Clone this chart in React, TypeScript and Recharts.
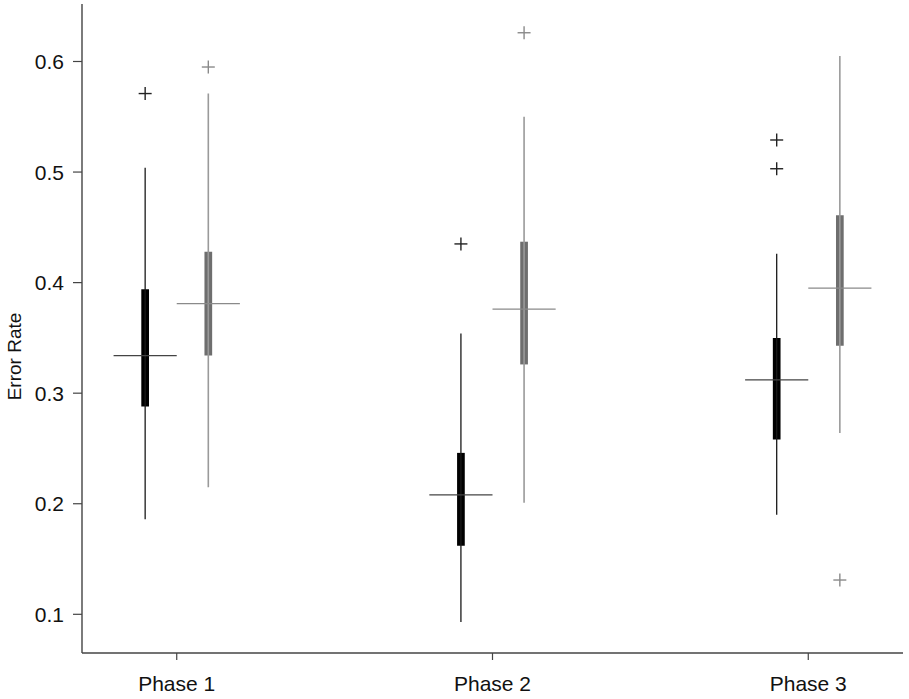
import React from 'react';
import {
  ComposedChart,
  XAxis,
  YAxis,
  Scatter,
  ReferenceArea,
  ReferenceLine,
} from 'recharts';

// Categories
const phases = ['Phase 1', 'Phase 2', 'Phase 3'];
const phasePositions = [1, 2, 3];

// Group A (black boxes)
const aLow = [0.186, 0.093, 0.19];
const aQ1 = [0.288, 0.162, 0.258];
const aMedian = [0.334, 0.208, 0.312];
const aQ3 = [0.394, 0.246, 0.35];
const aHigh = [0.504, 0.354, 0.426];
const aOutliers = [[0.571], [0.435], [0.529, 0.503]];

// Group B (gray boxes)
const bLow = [0.215, 0.201, 0.264];
const bQ1 = [0.334, 0.326, 0.343];
const bMedian = [0.381, 0.376, 0.395];
const bQ3 = [0.428, 0.437, 0.461];
const bHigh = [0.571, 0.55, 0.605];
const bOutliers = [[0.595], [0.626], [0.131]];

// Y axis ticks
const yTicks = [0.1, 0.2, 0.3, 0.4, 0.5, 0.6];

const GROUP_OFFSET = 0.1;
const BOX_HALF = 0.0122;
const MEDIAN_HALF = 0.1;

const FONT = '"Liberation Sans", Arial, Helvetica, sans-serif';

type Group = {
  offset: number;
  low: number[];
  q1: number[];
  median: number[];
  q3: number[];
  high: number[];
  outliers: number[][];
  boxColor: string;
  whiskerColor: string;
  whiskerWidth: number;
  medianColor: string;
  outlierColor: string;
};

const groups: Group[] = [
  {
    offset: -GROUP_OFFSET,
    low: aLow,
    q1: aQ1,
    median: aMedian,
    q3: aQ3,
    high: aHigh,
    outliers: aOutliers,
    boxColor: '#000000',
    whiskerColor: '#1a1a1a',
    whiskerWidth: 1.3,
    medianColor: '#444444',
    outlierColor: '#222222',
  },
  {
    offset: GROUP_OFFSET,
    low: bLow,
    q1: bQ1,
    median: bMedian,
    q3: bQ3,
    high: bHigh,
    outliers: bOutliers,
    boxColor: '#6e6e6e',
    whiskerColor: '#9a9a9a',
    whiskerWidth: 1.6,
    medianColor: '#8a8a8a',
    outlierColor: '#8a8a8a',
  },
];

const makeOutlierData = (g: Group) =>
  g.outliers.flatMap((vals, i) =>
    vals.map((v) => ({ x: phasePositions[i] + g.offset, y: v }))
  );

const plusShape = (color: string) => (props: any) => {
  const { cx, cy } = props;
  if (cx == null || cy == null) return <g />;
  const h = 6.5;
  return (
    <g>
      <line x1={cx - h} x2={cx + h} y1={cy} y2={cy} stroke={color} strokeWidth={1.4} />
      <line x1={cx} x2={cx} y1={cy - h} y2={cy + h} stroke={color} strokeWidth={1.4} />
    </g>
  );
};

const YLabel = (props: any) => {
  const vb = props.viewBox || { x: 0, y: 0, width: 82, height: 649 };
  const x = vb.x + 14;
  const y = vb.y + vb.height / 2 + 28;
  return (
    <text
      x={x}
      y={y}
      transform={`rotate(-90 ${x} ${y})`}
      textAnchor="middle"
      dominantBaseline="central"
      fontFamily={FONT}
      fontSize={19}
      fill="#111"
    >
      Error Rate
    </text>
  );
};

export default function App() {
  return (
    <div style={{ position: 'absolute', left: 0, top: 0, background: '#fff' }}>
      <ComposedChart
        width={909}
        height={699}
        margin={{ top: 4, right: 6, bottom: 0, left: 0 }}
      >
        <XAxis
          type="number"
          dataKey="x"
          domain={[0.7, 3.3]}
          ticks={phasePositions}
          tickFormatter={(v: number) => phases[phasePositions.indexOf(v)] ?? ''}
          allowDataOverflow
          height={46}
          tickSize={7}
          tickMargin={16}
          axisLine={{ stroke: '#444', strokeWidth: 1.4 }}
          tickLine={{ stroke: '#444', strokeWidth: 1.2 }}
          tick={{ fontSize: 21, fontFamily: FONT, fill: '#111' }}
          interval={0}
        />
        <YAxis
          type="number"
          dataKey="y"
          domain={[0.065, 0.652]}
          ticks={yTicks}
          allowDataOverflow
          width={82}
          tickSize={9}
          tickMargin={9}
          axisLine={{ stroke: '#444', strokeWidth: 1.4 }}
          tickLine={{ stroke: '#444', strokeWidth: 1.2 }}
          tick={{ fontSize: 21, fontFamily: FONT, fill: '#111' }}
          tickFormatter={(v: number) => v.toFixed(1)}
          label={{ content: YLabel }}
        />
        {groups.map((g, gi) =>
          phasePositions.map((p, i) => (
            <ReferenceLine
              key={`w-${gi}-${i}`}
              segment={[
                { x: p + g.offset, y: g.low[i] },
                { x: p + g.offset, y: g.high[i] },
              ]}
              stroke={g.whiskerColor}
              strokeWidth={g.whiskerWidth}
              ifOverflow="visible"
            />
          ))
        )}
        {groups.map((g, gi) =>
          phasePositions.map((p, i) => (
            <ReferenceArea
              key={`b-${gi}-${i}`}
              x1={p + g.offset - BOX_HALF}
              x2={p + g.offset + BOX_HALF}
              y1={g.q1[i]}
              y2={g.q3[i]}
              fill={g.boxColor}
              fillOpacity={1}
              stroke="none"
              ifOverflow="visible"
            />
          ))
        )}
        {groups.map((g, gi) =>
          phasePositions.map((p, i) => (
            <ReferenceLine
              key={`m-${gi}-${i}`}
              segment={[
                { x: p + g.offset - MEDIAN_HALF, y: g.median[i] },
                { x: p + g.offset + MEDIAN_HALF, y: g.median[i] },
              ]}
              stroke={g.medianColor}
              strokeWidth={1.4}
              ifOverflow="visible"
            />
          ))
        )}
        {groups.map((g, gi) => (
          <Scatter
            key={`o-${gi}`}
            data={makeOutlierData(g)}
            dataKey="y"
            shape={plusShape(g.outlierColor)}
            isAnimationActive={false}
          />
        ))}
      </ComposedChart>
    </div>
  );
}
